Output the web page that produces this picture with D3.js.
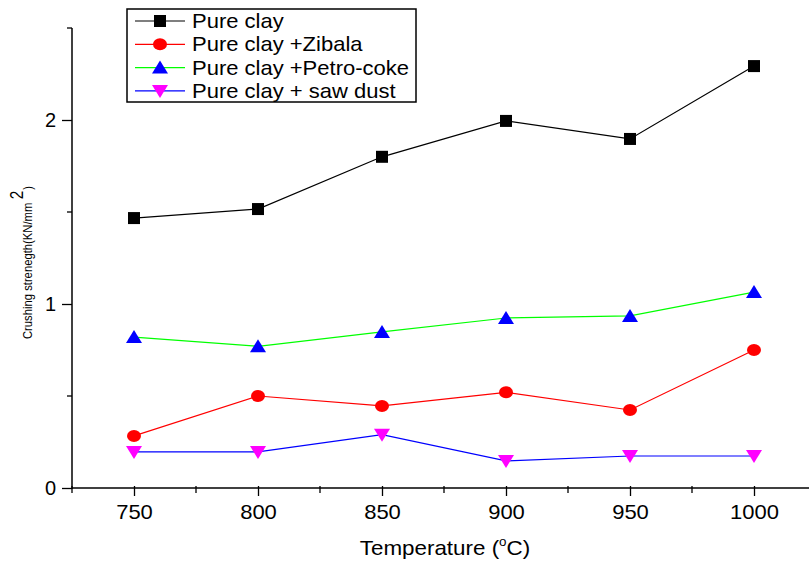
<!DOCTYPE html>
<html><head><meta charset="utf-8">
<script src="https://cdn.jsdelivr.net/npm/d3@7"></script>
<style>body{margin:0;background:#fff}svg{display:block;font-family:"Liberation Sans",Arial,sans-serif}</style>
</head><body><svg id="c" width="809" height="561"></svg>
<script>
const temperatures = [750, 800, 850, 900, 950, 1000];
const pureClay = [1.467, 1.516, 1.80, 1.995, 1.897, 2.293];
const zibala = [0.283, 0.50, 0.446, 0.52, 0.424, 0.75];
const petroCoke = [0.82, 0.77, 0.848, 0.924, 0.935, 1.065];
const sawDust = [0.196, 0.196, 0.29, 0.147, 0.174, 0.174];
const seriesNames = ["Pure clay", "Pure clay +Zibala", "Pure clay +Petro-coke", "Pure clay + saw dust"];
const xTicks = [750, 800, 850, 900, 950, 1000];
const yTicks = [0, 1, 2];

const series = [
  {name: seriesNames[0], values: pureClay, line: "#000000", fill: "#000000", shape: "square"},
  {name: seriesNames[1], values: zibala, line: "#ff0000", fill: "#ff0000", shape: "circle"},
  {name: seriesNames[2], values: petroCoke, line: "#00ff00", fill: "#0000ff", shape: "up"},
  {name: seriesNames[3], values: sawDust, line: "#0000ff", fill: "#ff00ff", shape: "down"}
];

const svg = d3.select("#c");
const x = d3.scaleLinear().domain([725, 1025]).range([72, 816]);
const y = d3.scaleLinear().domain([0, 2.5]).range([488, 28]);

// axes
const gx = svg.append("g").attr("transform", "translate(0,488)");
gx.call(d3.axisBottom(x).tickValues(xTicks).tickSize(8).tickPadding(9).tickFormat(d3.format("d")));
gx.select(".domain").remove();
gx.append("line").attr("x1", 72).attr("x2", 816).attr("stroke", "#000").attr("stroke-width", 1.5);
gx.selectAll(".tick line").attr("y1", -2).attr("stroke-width", 1.3);
gx.selectAll(".tick text").attr("font-size", 20).attr("fill", "#000")
  .attr("font-family", "Liberation Sans, Arial, sans-serif").attr("transform", "scale(1.1,1)");
const xMinor = [725, 775, 825, 875, 925, 975];
gx.selectAll(".minor").data(xMinor).enter().append("line")
  .attr("x1", d => x(d)).attr("x2", d => x(d)).attr("y1", -2).attr("y2", 5)
  .attr("stroke", "#000").attr("stroke-width", 1.3);

const gy = svg.append("g").attr("transform", "translate(72,0)");
gy.call(d3.axisLeft(y).tickValues(yTicks).tickSize(10).tickPadding(6).tickFormat(d3.format("d")));
gy.select(".domain").remove();
gy.append("line").attr("y1", 28).attr("y2", 489).attr("stroke", "#000").attr("stroke-width", 1.5);
gy.selectAll(".tick line").attr("stroke-width", 1.3);
gy.selectAll(".tick text").attr("font-size", 20).attr("fill", "#000").attr("font-family", "Liberation Sans, Arial, sans-serif");
const yMinor = [0.5, 1.5, 2.5];
gy.selectAll(".minor").data(yMinor).enter().append("line")
  .attr("x1", -5).attr("x2", 0).attr("y1", d => y(d)).attr("y2", d => y(d))
  .attr("stroke", "#000").attr("stroke-width", 1.3);

// axis titles
const xt = svg.append("text").attr("transform", "translate(445,555) scale(1.12,1)").attr("text-anchor", "middle")
  .attr("font-size", 20).attr("fill", "#000");
xt.append("tspan").text("Temperature (");
xt.append("tspan").attr("font-size", 12).attr("dy", -9).text("o");
xt.append("tspan").attr("dy", 9).text("C)");

const yt = svg.append("text").attr("transform", "translate(32,339) rotate(-90) scale(0.9,1.05)")
  .attr("font-size", 12.5).attr("fill", "#000");
yt.append("tspan").text("Crushing strenegth(KN/mm");
yt.append("tspan").attr("font-size", 17).attr("dy", -9).attr("dx", 4).text("2");
yt.append("tspan").attr("dy", 9).attr("dx", 1).text(")");

// symbols
function drawMarker(g, shape, fill, cx, cy) {
  if (shape === "square") {
    g.append("rect").attr("x", cx - 6).attr("y", cy - 6).attr("width", 12).attr("height", 12).attr("fill", fill);
  } else if (shape === "circle") {
    g.append("ellipse").attr("cx", cx).attr("cy", cy).attr("rx", 7).attr("ry", 6).attr("fill", fill);
  } else if (shape === "up") {
    g.append("path").attr("d", `M${cx - 8},${cy + 6}L${cx + 8},${cy + 6}L${cx},${cy - 7}Z`).attr("fill", fill);
  } else {
    g.append("path").attr("d", `M${cx - 8},${cy - 6}L${cx + 8},${cy - 6}L${cx},${cy + 7}Z`).attr("fill", fill);
  }
}

const line = d3.line().x((d, i) => x(temperatures[i])).y(d => y(d));
series.forEach(s => {
  svg.append("path").attr("d", line(s.values)).attr("fill", "none")
    .attr("stroke", s.line).attr("stroke-width", 1.2);
  const g = svg.append("g");
  s.values.forEach((v, i) => drawMarker(g, s.shape, s.fill, x(temperatures[i]), y(v)));
});

// legend
const lg = svg.append("g");
lg.append("rect").attr("x", 127).attr("y", 9).attr("width", 289).attr("height", 93)
  .attr("fill", "#fff").attr("stroke", "#000").attr("stroke-width", 1.5);
series.forEach((s, i) => {
  const cy = 21 + i * 23.3;
  lg.append("line").attr("x1", 135).attr("x2", 185).attr("y1", cy).attr("y2", cy)
    .attr("stroke", s.line).attr("stroke-width", 1.2);
  drawMarker(lg, s.shape, s.fill, 160, cy);
  lg.append("text").attr("transform", `translate(192,${cy + 7}) scale(1.1,1)`)
    .attr("font-size", 20).attr("fill", "#000").text(s.name);
});
</script></body></html>
